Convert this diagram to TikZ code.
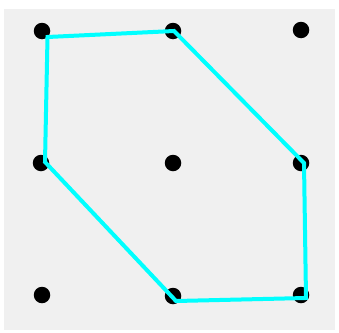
\documentclass[tikz,border=0pt]{standalone}
\definecolor{polycyan}{RGB}{0,255,255}
\definecolor{paper}{RGB}{240,240,240}
\begin{document}
\begin{tikzpicture}[x=1pt,y=-1pt,
  dot/.style={circle,fill=black,inner sep=0pt,minimum size=16.5pt},
  poly/.style={draw=polycyan,line width=4pt,line join=miter}]
\useasboundingbox (0,0) rectangle (339,332);
\fill[white] (0,0) rectangle (339,332);
\fill[paper] (4,9) rectangle (335,330);
% dots
\node[dot] (d11) at (42,31) {};
\node[dot] (d12) at (173,31) {};
\node[dot] (d13) at (301,30) {};
\node[dot] (d21) at (41,163) {};
\node[dot] (d22) at (173,163) {};
\node[dot] (d23) at (301,163) {};
\node[dot] (d31) at (42,295) {};
\node[dot] (d32) at (173,296) {};
\node[dot] (d33) at (301,295) {};
% polygon vertices
\coordinate (p1) at (47.5,37);
\coordinate (p2) at (174,31);
\coordinate (p3) at (304,163);
\coordinate (p4) at (306,298);
\coordinate (p5) at (176,301);
\coordinate (p6) at (45,162);
\draw[poly] (p1) -- (p2) -- (p3) -- (p4) -- (p5) -- (p6) -- cycle;
\end{tikzpicture}
\end{document}
